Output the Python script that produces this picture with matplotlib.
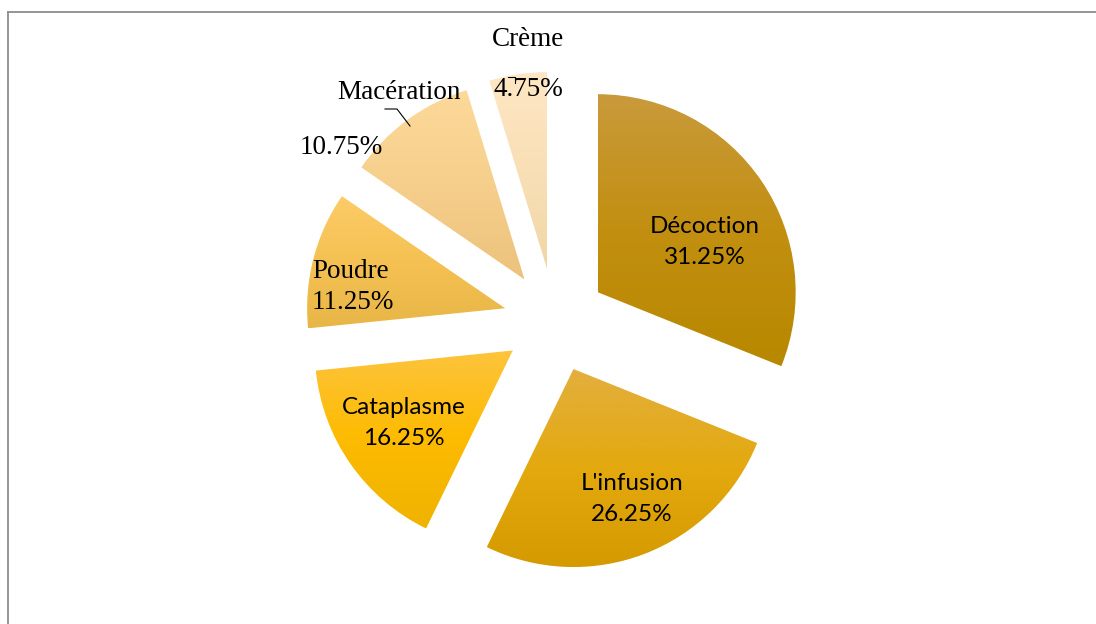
import numpy as np
import matplotlib.pyplot as plt
from matplotlib.lines import Line2D
from matplotlib.colors import LinearSegmentedColormap

labels = ['Décoction', "L'infusion", 'Cataplasme', 'Poudre', 'Macération', 'Crème']
values = [31.25, 26.25, 16.25, 11.25, 10.75, 4.75]

# top / middle / bottom colour of the vertical gradient of each slice
top_colors = ['#c99a3c', '#e3af3e', '#fdc43e', '#fdcc68', '#fdd99a', '#ffe7c4']
mid_colors = ['#c28f10', '#e3a90e', '#fdbb00', '#f4c152', '#f6cf8c', '#f8dfb6']
bottom_colors = ['#b88800', '#d49a00', '#efb300', '#e8b646', '#ecc27c', '#f1d7a6']

W, H = 1096, 624
CX, CY, R = 555, 321, 198


def px(x, y):
    # pixel position -> data units of the pie axes
    return (x - CX) / R, (CY - y) / R


def set_view(ax):
    ax.set_xlim(-CX / R, (W - CX) / R)
    ax.set_ylim(-(H - CY) / R, CY / R)
    ax.set_aspect('equal')
    ax.axis('off')


fig = plt.figure(figsize=(W / 100, H / 100), dpi=100)
ax = fig.add_axes([0, 0, 1, 1])

wedges, _ = ax.pie(values, startangle=90, counterclock=False, radius=1,
                   explode=[0.26] * len(values),
                   wedgeprops=dict(linewidth=0, edgecolor='none'))
set_view(ax)

inv = ax.transData.inverted()
for w, c0, cm, c1 in zip(wedges, top_colors, mid_colors, bottom_colors):
    ext = w.get_extents()
    (x0, y0), (x1, y1) = inv.transform([[ext.x0, ext.y0], [ext.x1, ext.y1]])
    cmap = LinearSegmentedColormap.from_list('g', [c0, cm, c1])
    grad = np.linspace(0, 1, 256).reshape(-1, 1)
    im = ax.imshow(grad, cmap=cmap, extent=[x0, x1, y0, y1], origin='upper',
                   aspect='auto', interpolation='bilinear', zorder=2)
    im.set_clip_path(w)
    w.set_facecolor('none')
set_view(ax)

sans = ['Lato', 'DejaVu Sans']
serif = ['Liberation Serif', 'DejaVu Serif']
pct = [f'{v:.2f}%' for v in values]
fs_sans, fs_serif = 17.5, 19.5

ax.text(*px(705, 242), f'{labels[0]}\n{pct[0]}', ha='center', va='center',
        family=sans, fontsize=fs_sans, linespacing=1.55, zorder=5)
ax.text(*px(632, 499), f'{labels[1]}\n{pct[1]}', ha='center', va='center',
        family=sans, fontsize=fs_sans, linespacing=1.55, zorder=5)
ax.text(*px(404, 423), f'{labels[2]}\n{pct[2]}', ha='center', va='center',
        family=sans, fontsize=fs_sans, linespacing=1.55, zorder=5)
ax.text(*px(312, 287), f'{labels[3]}\n{pct[3]}', ha='left', va='center',
        family=serif, fontsize=fs_serif, linespacing=1.28, zorder=5)
ax.text(*px(399, 93), labels[4], ha='center', va='center',
        family=serif, fontsize=fs_serif, zorder=5)
ax.text(*px(341, 148), pct[4], ha='center', va='center',
        family=serif, fontsize=fs_serif, zorder=5)
ax.text(*px(528, 40), labels[5], ha='center', va='center',
        family=serif, fontsize=fs_serif, zorder=5)
ax.text(*px(528, 90), pct[5], ha='center', va='center',
        family=serif, fontsize=fs_serif, zorder=5)

# leader lines for the two small slices
lx, ly = zip(px(385, 109), px(397, 109), px(410, 126))
ax.plot(lx, ly, color='black', lw=0.8, zorder=5)
lx, ly = zip(px(508, 77), px(515, 77), px(515, 83))
ax.plot(lx, ly, color='black', lw=0.8, zorder=5)
set_view(ax)

# chart frame
fx, fy = 7.5 / W, 1 - 11.5 / H
fig.add_artist(Line2D([fx, 1], [fy, fy], color='#8c8c8c', lw=1.3))
fig.add_artist(Line2D([fx, fx], [0, fy], color='#8c8c8c', lw=1.3))

fig.savefig('out.png', dpi=100)
